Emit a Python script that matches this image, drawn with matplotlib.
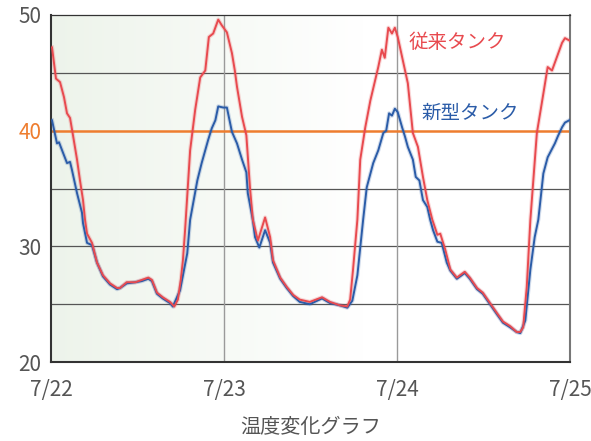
import numpy as np
import matplotlib
matplotlib.use('Agg')
from matplotlib import pyplot as plt

plt.rcParams['font.family'] = ['Noto Sans CJK JP', 'DejaVu Sans']

# 時間 (7/22 0:00 からの経過時間 h) と温度
hours_old = [0.14, 0.69, 1.25, 1.80, 2.22, 2.64, 3.05, 3.61, 4.02, 4.44, 4.72, 5.0, 5.69, 6.38,
             7.21, 8.19, 9.16, 9.57, 10.5, 11.7, 12.6, 13.5, 14.0, 14.7, 15.5, 16.5, 17.1,
             17.6, 18.0, 18.3, 18.6, 19.3, 20.0, 20.7, 21.4, 21.9, 22.5, 23.2, 23.7, 24.4,
             25.1, 25.5, 25.8, 26.5, 27.1, 27.6, 28.0, 28.7, 29.7, 30.4, 30.8, 31.8, 32.7,
             33.6, 34.5, 35.9, 37.6, 38.7, 40.1, 41.1, 41.5, 41.9, 42.5, 42.9, 43.6, 44.3,
             45.4, 45.9, 46.3, 46.8, 47.3, 47.7, 48.1, 48.8, 49.5, 50.2, 50.9, 51.6, 52.2,
             52.9, 53.6, 54.0, 54.7, 55.4, 56.3, 57.4, 58.1, 59.1, 59.9, 60.9, 61.9, 62.7,
             63.7, 64.6, 65.1, 65.5, 66.0, 66.5, 67.4, 68.3, 68.9, 69.5, 70.2, 70.9, 71.3, 71.9]
temp_old = [47.2, 44.5, 44.2, 42.9, 41.5, 41.1, 39.6, 37.5, 35.7, 34.0, 32.3, 31.1, 30.3, 28.6,
            27.5, 26.8, 26.4, 26.4, 26.9, 26.9, 27.1, 27.3, 27.1, 26.0, 25.6, 25.2, 24.8,
            25.4, 27.1, 28.8, 31.4, 38.3, 41.8, 44.6, 45.2, 48.1, 48.4, 49.6, 49.1, 48.5,
            46.7, 45.2, 43.8, 41.2, 39.6, 35.1, 32.3, 30.5, 32.5, 30.8, 28.8, 27.3, 26.5,
            25.8, 25.4, 25.2, 25.6, 25.2, 24.9, 24.8, 25.4, 28.0, 32.3, 37.5, 40.3, 42.6,
            45.5, 47.0, 46.3, 48.9, 48.4, 48.9, 48.1, 46.1, 44.1, 39.8, 38.6, 36.0, 34.0,
            32.3, 31.0, 31.1, 29.7, 28.0, 27.3, 27.8, 27.3, 26.4, 26.0, 25.1, 24.2, 23.5,
            23.1, 22.6, 22.6, 23.0, 26.5, 32.3, 39.8, 43.2, 45.5, 45.2, 46.4, 47.6, 48.0, 47.8]

hours_new = [0.14, 0.83, 1.11, 1.66, 2.22, 2.64, 2.91, 3.61, 4.30, 4.44, 5.0, 5.69, 6.38,
             7.21, 8.19, 9.16, 9.57, 10.5, 11.7, 12.6, 13.5, 14.0, 14.7, 15.5, 16.5, 16.9,
             17.9, 18.9, 19.3, 20.3, 20.9, 21.8, 22.3, 22.8, 23.2, 23.9, 24.4, 25.1, 25.8,
             26.5, 27.1, 27.3, 28.0, 28.3, 28.9, 29.7, 30.4, 30.8, 31.8, 32.7, 33.6, 34.5,
             35.9, 37.6, 38.7, 40.1, 41.1, 41.8, 42.5, 43.3, 43.8, 44.7, 45.4, 46.1, 46.5,
             46.9, 47.3, 47.7, 48.1, 48.7, 49.1, 49.5, 50.2, 50.6, 51.1, 51.6, 52.2, 52.6,
             53.0, 53.6, 54.2, 54.9, 55.4, 56.3, 57.4, 58.1, 59.1, 59.9, 60.9, 61.9, 62.7,
             63.7, 64.6, 65.1, 65.8, 66.5, 67.1, 67.6, 68.3, 68.9, 69.9, 70.3, 70.9, 71.3, 71.9]
temp_new = [40.9, 38.9, 39.0, 38.1, 37.2, 37.3, 36.6, 34.6, 32.9, 32.0, 30.3, 30.1, 28.6,
            27.4, 26.7, 26.3, 26.4, 26.8, 26.9, 27.0, 27.2, 27.0, 25.9, 25.5, 25.1, 24.8,
            26.2, 29.4, 32.3, 35.7, 37.2, 39.2, 40.2, 40.9, 42.1, 42.0, 42.0, 39.9, 38.9,
            37.5, 36.4, 34.6, 32.3, 30.8, 29.9, 31.4, 30.3, 28.6, 27.2, 26.4, 25.7, 25.2,
            25.0, 25.5, 25.1, 24.9, 24.7, 25.3, 27.5, 32.3, 35.1, 37.2, 38.3, 39.8, 40.0,
            41.5, 41.3, 41.9, 41.6, 40.3, 39.5, 38.6, 37.5, 36.0, 35.7, 34.0, 33.4, 32.3,
            31.4, 30.4, 30.3, 28.6, 27.9, 27.2, 27.7, 27.2, 26.3, 25.9, 25.0, 24.1, 23.4,
            23.0, 22.6, 22.5, 23.6, 28.0, 30.8, 32.3, 36.3, 37.7, 38.9, 39.5, 40.3, 40.7, 40.9]

day_labels = ['7/22', '7/23', '7/24', '7/25']
y_ticks = [20, 30, 40, 50]

fig = plt.figure(figsize=(5.91, 4.41), dpi=100)
ax = fig.add_axes([0.0863, 0.179, 0.8782, 0.787])

# 背景グラデーション (左: 薄い緑 → 右: 白)
grad = np.linspace(0, 1, 256)
grad = np.clip(grad / 0.6, 0, 1)
c0 = np.array([0.93, 0.955, 0.92])
c1 = np.array([1.0, 1.0, 1.0])
img = c0[None, None, :] * (1 - grad[None, :, None]) + c1[None, None, :] * grad[None, :, None]
ax.imshow(img, extent=[0, 72, 20, 50], aspect='auto', zorder=0)

for yv in [25, 30, 35, 45]:
    ax.axhline(yv, color='#555555', lw=0.9, zorder=1)
for xv in [24, 48]:
    ax.axvline(xv, color='#9a9a9a', lw=1.0, zorder=1)
ax.axhline(40, color='#ee7d2f', lw=1.8, zorder=2)

ax.plot(hours_old, temp_old, color='#e84a4f', lw=3.0, alpha=0.22, zorder=3)
ax.plot(hours_new, temp_new, color='#2b5ca8', lw=3.0, alpha=0.22, zorder=3)
ax.plot(hours_new, temp_new, color='#2b5ca8', lw=1.4, zorder=4)
ax.plot(hours_old, temp_old, color='#e84a4f', lw=1.4, zorder=5)

ax.text(56.3, 47.6, '従来タンク', color='#e84a4f', fontsize=14, ha='center', va='center')
ax.text(58.1, 41.5, '新型タンク', color='#2b5ca8', fontsize=14, ha='center', va='center')

ax.set_xlim(0, 72)
ax.set_ylim(20, 50)
ax.set_xticks([0, 24, 48, 72])
ax.set_xticklabels(day_labels)
ax.set_yticks(y_ticks)
ax.set_yticklabels([str(v) for v in y_ticks])
ax.tick_params(length=0, labelsize=15, colors='#555555')
ax.tick_params(axis='x', pad=12)
ax.tick_params(axis='y', pad=7)
ax.get_yticklabels()[2].set_color('#ee7d2f')
ax.set_xlabel('温度変化グラフ', fontsize=14.5, color='#555555', labelpad=12)

for s in ['left', 'bottom']:
    ax.spines[s].set_color('#333333')
    ax.spines[s].set_linewidth(1.5)
ax.spines['top'].set_color('#333333')
ax.spines['top'].set_linewidth(0.9)
ax.spines['right'].set_color('#777777')
ax.spines['right'].set_linewidth(1.5)

fig.savefig('out.png', dpi=100)
